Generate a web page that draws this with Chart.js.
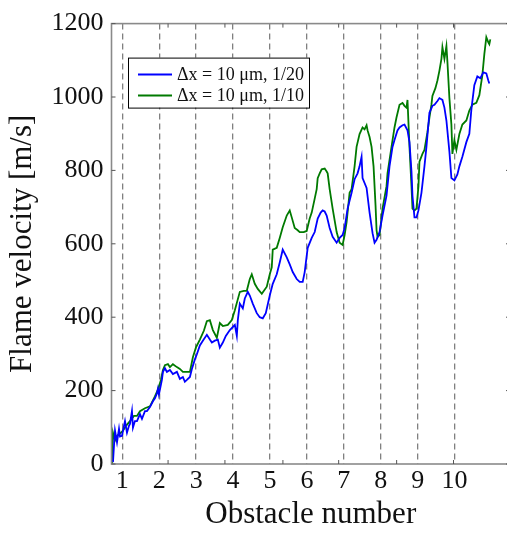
<!DOCTYPE html>
<html><head><meta charset="utf-8">
<script src="https://cdn.jsdelivr.net/npm/chart.js@4.4.0/dist/chart.umd.min.js"></script>
<style>
html,body{margin:0;padding:0;overflow:hidden;background:#fff;}
#wrap{position:relative;width:512px;height:533px;}
</style></head><body>
<div id="wrap"><canvas id="c"></canvas></div>
<script>
const obstacleTicks = [1,2,3,4,5,6,7,8,9,10];
const yTicks = [0,200,400,600,800,1000,1200];
const frameMinorTicks = [2.24,3.78,5.35,6.86,8.43,9.97];
const seriesLabels = ['Δx = 10 μm, 1/20','Δx = 10 μm, 1/10'];
const seriesColors = ['#0000ff','#007a00'];

const blueX = [0.748,0.776,0.803,0.857,0.911,0.938,0.992,1.046,1.073,1.127,1.181,1.208,1.262,1.289,1.343,1.398,1.479,1.533,1.614,1.668,1.749,1.830,1.884,1.938,1.965,1.992,2.073,2.101,2.155,2.209,2.290,2.371,2.479,2.560,2.641,2.695,2.749,2.831,2.885,2.966,3.020,3.101,3.182,3.290,3.372,3.426,3.507,3.588,3.642,3.723,3.804,3.913,4.048,4.102,4.129,4.183,4.264,4.318,4.399,4.453,4.534,4.642,4.723,4.805,4.886,4.994,5.075,5.183,5.264,5.345,5.454,5.535,5.616,5.724,5.805,5.886,5.940,6.021,6.130,6.211,6.292,6.373,6.427,6.481,6.535,6.616,6.697,6.805,6.886,6.967,7.021,7.102,7.210,7.291,7.372,7.426,7.480,7.507,7.616,7.697,7.778,7.832,7.886,7.967,8.048,8.156,8.237,8.318,8.372,8.453,8.508,8.589,8.643,8.724,8.778,8.832,8.859,8.913,8.967,9.021,9.102,9.183,9.237,9.318,9.399,9.454,9.535,9.589,9.670,9.724,9.778,9.859,9.913,9.994,10.075,10.129,10.210,10.318,10.399,10.453,10.534,10.616,10.697,10.778,10.859,10.913,10.940];
const blueY = [5,51,91,59,96,75,77,104,117,85,104,109,144,99,117,117,136,123,144,144,155,171,179,192,205,189,229,251,261,251,256,245,251,232,237,224,229,237,259,285,299,323,336,352,339,331,336,339,317,331,349,365,379,349,392,437,424,451,469,459,437,411,400,397,411,459,491,517,549,584,563,544,523,504,496,496,523,589,616,632,669,685,691,688,677,643,619,603,616,624,643,696,739,776,792,811,837,779,752,685,629,603,611,632,677,731,811,864,883,909,917,923,925,909,877,797,731,672,672,691,739,811,864,957,976,979,989,997,992,971,936,851,779,773,789,811,837,877,900,965,1032,1056,1051,1067,1064,1045,1037];

const greenX = [0.721,0.748,0.803,0.857,0.938,1.019,1.100,1.208,1.316,1.398,1.479,1.614,1.749,1.884,1.965,2.046,2.101,2.155,2.236,2.290,2.371,2.479,2.560,2.641,2.749,2.831,2.912,2.993,3.101,3.209,3.290,3.372,3.453,3.561,3.642,3.723,3.858,3.966,4.048,4.183,4.291,4.372,4.453,4.507,4.588,4.669,4.778,4.913,4.994,5.048,5.075,5.183,5.264,5.345,5.454,5.535,5.589,5.670,5.751,5.805,5.913,5.994,6.075,6.130,6.211,6.265,6.292,6.346,6.400,6.481,6.535,6.562,6.616,6.697,6.805,6.886,6.967,7.021,7.075,7.156,7.210,7.291,7.345,7.426,7.507,7.562,7.616,7.643,7.697,7.751,7.805,7.859,7.886,7.913,7.967,8.048,8.156,8.183,8.291,8.372,8.426,8.508,8.589,8.643,8.697,8.724,8.778,8.832,8.859,8.913,8.967,9.021,9.048,9.129,9.183,9.264,9.318,9.372,9.399,9.480,9.535,9.589,9.643,9.670,9.724,9.778,9.805,9.859,9.913,9.940,9.994,10.048,10.129,10.210,10.318,10.399,10.480,10.588,10.670,10.751,10.805,10.859,10.913,10.940,10.967];
const greenY = [0,85,64,77,83,91,104,117,131,131,144,152,157,184,203,229,256,269,272,264,272,264,259,251,251,251,291,317,339,363,389,392,365,344,384,376,379,392,419,469,472,472,504,517,491,477,464,483,517,536,584,589,616,645,677,691,672,643,637,632,632,635,669,685,723,749,779,792,803,805,797,792,749,696,632,603,597,624,659,739,749,811,864,899,917,912,923,909,891,864,811,704,637,619,624,696,757,792,864,917,944,979,984,976,971,992,864,757,696,691,696,757,824,845,856,904,944,979,1003,1024,1045,1072,1104,1136,1104,1139,1096,997,925,845,883,856,899,925,936,963,979,984,1005,1059,1117,1163,1149,1144,1157];

const serif = "'Liberation Serif', 'DejaVu Serif', serif";

const framePlugin = {
  id: 'frame',
  afterDraw(chart) {
    const {ctx, chartArea: a, scales: {x, y}} = chart;
    ctx.save();
    ctx.strokeStyle = '#8a8a8a';
    ctx.lineWidth = 1.6;
    ctx.strokeRect(a.left, a.top, a.right - a.left, a.bottom - a.top);
    ctx.lineWidth = 1;
    ctx.strokeStyle = '#555';
    const seg = (x1, y1, x2, y2) => { ctx.beginPath(); ctx.moveTo(x1, y1); ctx.lineTo(x2, y2); ctx.stroke(); };
    yTicks.forEach(v => { const p = y.getPixelForValue(v); seg(a.left, p, a.left + 4, p); seg(a.right, p, a.right - 4, p); });
    frameMinorTicks.forEach(v => { const p = x.getPixelForValue(v); seg(p, a.top, p, a.top + 4); seg(p, a.bottom, p, a.bottom - 4); });
    // legend
    const lx = a.left + 16.5, ly = a.top + 34, lw = 181, lh = 50;
    ctx.fillStyle = '#fff';
    ctx.fillRect(lx, ly, lw, lh);
    ctx.strokeStyle = '#000';
    ctx.lineWidth = 1;
    ctx.strokeRect(lx + 0.5, ly + 0.5, lw, lh);
    ctx.font = "18px " + serif;
    ctx.textBaseline = 'middle';
    ctx.textAlign = 'left';
    chart.data.datasets.forEach((ds, i) => {
      const yy = ly + 17 + i * 21;
      ctx.strokeStyle = ds.borderColor;
      ctx.lineWidth = 2;
      seg(lx + 10, yy, lx + 44, yy);
      ctx.fillStyle = '#111';
      ctx.fillText(ds.label, lx + 49, yy + 1);
    });
    ctx.restore();
  }
};

new Chart(document.getElementById('c'), {
  type: 'line',
  data: {
    datasets: [
      { label: seriesLabels[0], data: blueX.map((v, i) => ({x: v, y: blueY[i]})), borderColor: seriesColors[0], borderWidth: 1.8, pointRadius: 0, tension: 0, fill: false },
      { label: seriesLabels[1], data: greenX.map((v, i) => ({x: v, y: greenY[i]})), borderColor: seriesColors[1], borderWidth: 1.8, pointRadius: 0, tension: 0, fill: false }
    ]
  },
  options: {
    responsive: true,
    maintainAspectRatio: false,
    animation: false,
    layout: { padding: { top: 14, right: 2, left: 0, bottom: 0 } },
    plugins: { legend: { display: false }, tooltip: { enabled: false } },
    scales: {
      x: {
        type: 'linear', min: 0.708, max: 11.5,
        afterBuildTicks: s => { s.ticks = obstacleTicks.map(v => ({value: v})); },
        afterFit: s => { s.height = 69; },
        ticks: { font: { family: serif, size: 26 }, color: '#111', padding: 2, autoSkip: false, maxRotation: 0, callback: v => String(v) },
        grid: { color: '#808080', lineWidth: 1.3, drawTicks: false },
        border: { display: false, dash: [6, 4] },
        title: { display: true, text: 'Obstacle number', font: { family: serif, size: 31 }, color: '#111', padding: { top: 0, bottom: 0 } }
      },
      y: {
        type: 'linear', min: 0, max: 1200,
        afterBuildTicks: s => { s.ticks = yTicks.map(v => ({value: v})); },
        afterFit: s => { s.width = 111.5; },
        ticks: { font: { family: serif, size: 26 }, color: '#111', padding: 8, callback: v => String(v) },
        grid: { display: false, drawTicks: false },
        border: { display: false },
        title: { display: true, text: 'Flame velocity [m/s]', font: { family: serif, size: 31 }, color: '#111', padding: { top: 4, bottom: 0 } }
      }
    }
  },
  plugins: [framePlugin]
});
</script>
</body></html>
